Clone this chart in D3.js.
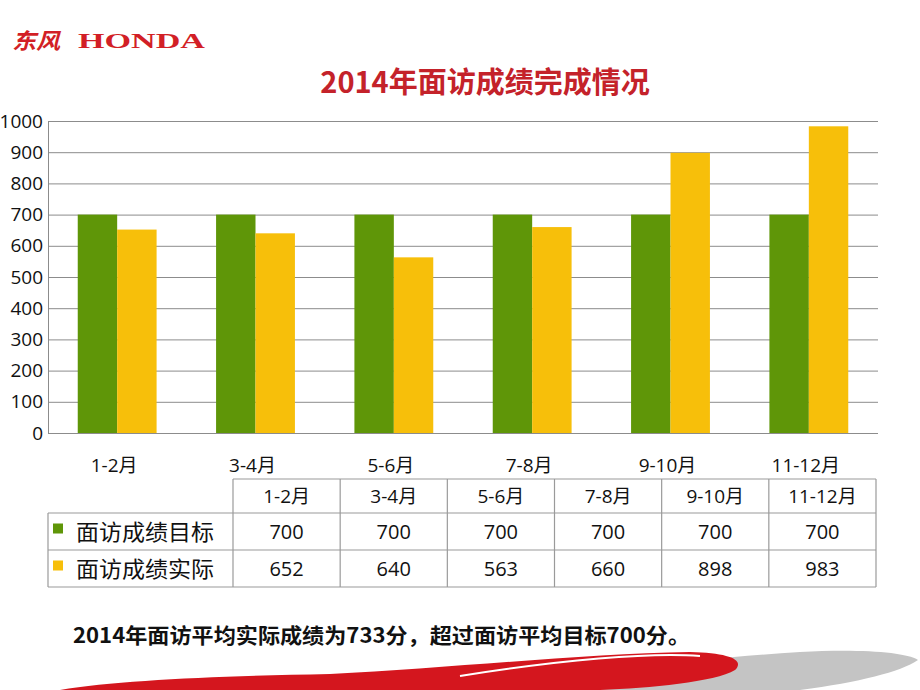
<!DOCTYPE html>
<html>
<head>
<meta charset="utf-8">
<script src="https://cdn.jsdelivr.net/npm/d3@7"></script>
<style>
  body { margin: 0; background: #fff; }
  svg { display: block; }
</style>
</head>
<body>
<svg id="chart" width="920" height="690"></svg>
<script>
const categories = ["1-2月", "3-4月", "5-6月", "7-8月", "9-10月", "11-12月"];
const seriesNames = ["面访成绩目标", "面访成绩实际"];
const targetValues = [700, 700, 700, 700, 700, 700];
const actualValues = [652, 640, 563, 660, 898, 983];
const yTicks = [0, 100, 200, 300, 400, 500, 600, 700, 800, 900, 1000];
const colors = ["#5f9608", "#f7bf0a"];

const svg = d3.select("#chart");
const cjk = "'Noto Sans CJK SC', sans-serif";
const latin = "'Open Sans', 'Noto Sans CJK SC', sans-serif";

// logo
svg.append("text")
  .attr("x", 12).attr("y", 49)
  .attr("fill", "#d21f26")
  .style("font", "italic bold 22px 'Noto Sans CJK SC'")
  .attr("textLength", 48).attr("lengthAdjust", "spacingAndGlyphs")
  .text("东风");
svg.append("text")
  .attr("x", 78).attr("y", 48)
  .attr("fill", "#d21f26")
  .style("font", "bold 20px 'Liberation Serif', serif")
  .attr("textLength", 127).attr("lengthAdjust", "spacingAndGlyphs")
  .text("HONDA");

// title
svg.append("text")
  .attr("x", 485).attr("y", 93)
  .attr("text-anchor", "middle")
  .attr("fill", "#c4222a")
  .style("font", "bold 29px " + cjk)
  .text("2014年面访成绩完成情况");

const margin = {left: 48, right: 878, top: 121, bottom: 433};

const x = d3.scaleBand().domain(categories).range([margin.left, margin.right]);
const x1 = d3.scaleBand().domain(seriesNames)
  .range([x.bandwidth() * 0.215, x.bandwidth() * 0.785]);
const y = d3.scaleLinear().domain([0, 1000]).range([margin.bottom, margin.top]);

// gridlines + y labels
const yAxis = svg.append("g")
  .attr("transform", `translate(${margin.left},0)`)
  .call(d3.axisLeft(y).tickValues(yTicks).tickFormat(d3.format("d"))
    .tickSize(-(margin.right - margin.left)).tickPadding(5));
yAxis.select(".domain").attr("stroke", "#8c8c8c");
yAxis.selectAll(".tick line").attr("stroke", "#8c8c8c").attr("stroke-width", 1);
yAxis.selectAll(".tick text")
  .attr("fill", "#111")
  .style("font", "19px " + latin);

// bars
const series = [targetValues, actualValues];
const groups = svg.append("g").selectAll("g")
  .data(categories)
  .join("g")
  .attr("transform", d => `translate(${x(d)},0)`);
groups.selectAll("rect")
  .data((d, i) => series.map((s, k) => ({name: seriesNames[k], value: s[i], k})))
  .join("rect")
  .attr("x", d => x1(d.name))
  .attr("width", x1.bandwidth())
  .attr("y", d => y(d.value))
  .attr("height", d => y(0) - y(d.value))
  .attr("fill", d => colors[d.k]);

// category labels under plot
svg.append("g").selectAll("text")
  .data(categories)
  .join("text")
  .attr("x", d => x(d) + x.bandwidth() / 2 - 3)
  .attr("y", 472)
  .attr("text-anchor", "middle")
  .attr("fill", "#111")
  .style("font", "19px " + latin)
  .text(d => d);

// data table
const colLeft = 233, colRight = 876;
const tx = d3.scaleBand().domain(categories).range([colLeft, colRight]);
const rowY = [479, 513, 550, 587];
const legendLeft = 48;
const table = svg.append("g").attr("stroke", "#9a9a9a").attr("stroke-width", 1.2).attr("fill", "none");
table.append("line").attr("x1", colLeft).attr("x2", colRight).attr("y1", rowY[0]).attr("y2", rowY[0]);
table.selectAll(".hl")
  .data(rowY.slice(1))
  .join("line")
  .attr("x1", legendLeft).attr("x2", colRight)
  .attr("y1", d => d).attr("y2", d => d);
table.selectAll(".vl")
  .data(categories.map(c => tx(c)).concat([colRight]))
  .join("line")
  .attr("x1", d => d).attr("x2", d => d)
  .attr("y1", rowY[0]).attr("y2", rowY[3]);
table.append("line")
  .attr("x1", legendLeft).attr("x2", legendLeft)
  .attr("y1", rowY[1]).attr("y2", rowY[3]);

const tText = svg.append("g").attr("fill", "#111").attr("text-anchor", "middle");
tText.selectAll(".hd")
  .data(categories)
  .join("text")
  .attr("x", d => tx(d) + tx.bandwidth() / 2)
  .attr("y", (rowY[0] + rowY[1]) / 2 + 7)
  .style("font", "19px " + latin)
  .text(d => d);
series.forEach((s, k) => {
  const cy = (rowY[k + 1] + rowY[k + 2]) / 2 + 7;
  tText.append("g").selectAll("text")
    .data(s)
    .join("text")
    .attr("x", (d, i) => tx(categories[i]) + tx.bandwidth() / 2)
    .attr("y", cy)
    .style("font", "20px " + latin)
    .text(d => d);
  svg.append("rect")
    .attr("x", 53).attr("y", cy - 15)
    .attr("width", 10).attr("height", 10)
    .attr("fill", colors[k]);
  svg.append("text")
    .attr("x", 76).attr("y", cy + 1)
    .attr("fill", "#111")
    .style("font", "22px " + cjk)
    .attr("textLength", 138).attr("lengthAdjust", "spacingAndGlyphs")
    .text(seriesNames[k]);
});

// summary
svg.append("text")
  .attr("x", 73).attr("y", 643)
  .attr("fill", "#111")
  .style("font", "bold 21px 'Liberation Sans Narrow', " + cjk)
  .attr("textLength", 617).attr("lengthAdjust", "spacingAndGlyphs")
  .text("2014年面访平均实际成绩为733分，超过面访平均目标700分。");

// decorative swoosh at the bottom
const deco = svg.append("g");
deco.append("path")
  .attr("d", "M520,690 C600,672 700,658 800,652 C860,649 905,652 918,660 C900,672 860,682 800,690 Z")
  .attr("fill", "#c4c4c4");
deco.append("path")
  .attr("d", "M60,690 C120,680 220,676 330,674 C450,668 580,654 690,652 C730,653 745,660 735,670 C715,682 650,688 600,690 Z")
  .attr("fill", "#d4161e");
deco.append("path")
  .attr("d", "M460,676 C560,660 650,652 700,656")
  .attr("stroke", "#fff").attr("stroke-width", 2).attr("fill", "none");
</script>
</body>
</html>
